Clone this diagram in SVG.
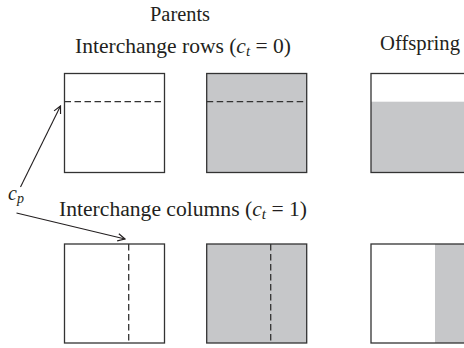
<svg xmlns="http://www.w3.org/2000/svg" width="464" height="348" viewBox="0 0 464 348">
<style>
  .box{stroke:#333;stroke-width:1.3;}
  .w{fill:#fff;}
  .g{fill:#c6c7c9;}
  .dash{stroke:#333;stroke-width:1.3;stroke-dasharray:6.5,3.5;fill:none;}
  .t{font-family:"Liberation Serif","Times New Roman",serif;font-size:20px;fill:#231f20;}
  .i{font-style:italic;}
  .conn{stroke:#231f20;stroke-width:1.1;fill:none;}
</style>
<defs>
  <marker id="arr" viewBox="0 0 10 10" refX="9" refY="5" markerWidth="9" markerHeight="9" markerUnits="userSpaceOnUse" orient="auto">
    <path d="M1,1 L9,5 L1,9" fill="none" stroke="#231f20" stroke-width="1.3"/>
  </marker>
</defs>
<g id="labels">
  <text class="t" x="150" y="21" textLength="60" lengthAdjust="spacingAndGlyphs">Parents</text>
  <text class="t" x="75" y="53" textLength="216" lengthAdjust="spacingAndGlyphs">Interchange rows (<tspan class="i">c</tspan><tspan class="i" font-size="14" dy="3">t</tspan><tspan dy="-3"> = 0)</tspan></text>
  <text class="t" x="380" y="50" textLength="80" lengthAdjust="spacingAndGlyphs">Offspring</text>
  <text class="t" x="59" y="216" textLength="248" lengthAdjust="spacingAndGlyphs">Interchange columns (<tspan class="i">c</tspan><tspan class="i" font-size="14" dy="3">t</tspan><tspan dy="-3"> = 1)</tspan></text>
  <text class="t" x="8" y="200"><tspan class="i">c</tspan><tspan class="i" font-size="14" dy="3">p</tspan></text>
</g>
<g id="p1-rows">
  <rect class="box w" x="64.5" y="73.5" width="100" height="99"/>
  <line class="dash" x1="64.5" y1="101.7" x2="164.5" y2="101.7"/>
</g>
<g id="p2-rows">
  <rect class="box g" x="206.7" y="73.5" width="100" height="99"/>
  <line class="dash" x1="206.7" y1="101.7" x2="306.7" y2="101.7"/>
</g>
<g id="off-rows">
  <rect class="w" x="371" y="73.5" width="100" height="99"/>
  <rect class="g" x="371" y="101.7" width="100" height="70.8"/>
  <rect class="box" fill="none" x="371" y="73.5" width="100" height="99"/>
</g>
<g id="p1-cols">
  <rect class="box w" x="64.5" y="244" width="100" height="99"/>
  <line class="dash" x1="128.7" y1="244" x2="128.7" y2="343"/>
</g>
<g id="p2-cols">
  <rect class="box g" x="206.7" y="244" width="100" height="99"/>
  <line class="dash" x1="270.7" y1="244" x2="270.7" y2="343"/>
</g>
<g id="off-cols">
  <rect class="w" x="371" y="244" width="100" height="99"/>
  <rect class="g" x="435" y="244" width="36" height="99"/>
  <rect class="box" fill="none" x="371" y="244" width="100" height="99"/>
</g>
<g id="connectors">
  <line class="conn" x1="20.5" y1="187" x2="60.5" y2="106" marker-end="url(#arr)"/>
  <line class="conn" x1="16.5" y1="213" x2="125" y2="239" marker-end="url(#arr)"/>
</g>
</svg>
